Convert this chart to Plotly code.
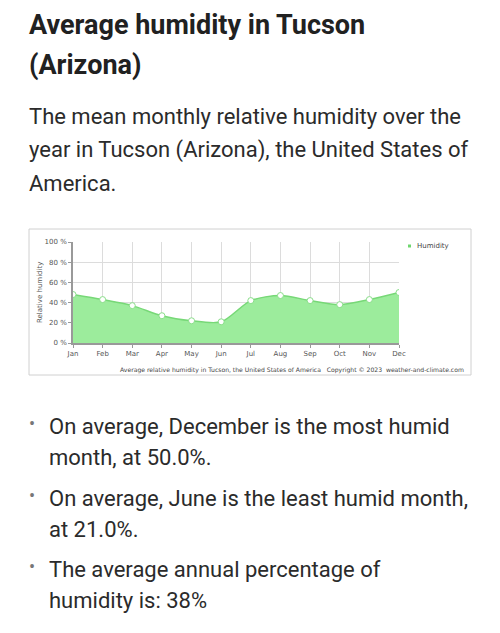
import plotly.graph_objects as go

months = ["Jan", "Feb", "Mar", "Apr", "May", "Jun", "Jul", "Aug", "Sep", "Oct", "Nov", "Dec"]
humidity = [48, 43, 37, 27, 22, 21, 42, 47, 42, 38, 43, 50]
y_ticks = [0, 20, 40, 60, 80, 100]
y_ticklabels = [f"{v} %" for v in y_ticks]

W, H = 500, 633
PL, PR, PT, PB = 73, 399, 242, 343  # plot area in pixels


def px(x):
    return (x - PL) / (PR - PL)


def py(y):
    return (PB - y) / (PB - PT)


fig = go.Figure()
fig.add_trace(go.Scatter(
    x=list(range(len(months))), y=humidity,
    mode="lines+markers",
    line=dict(color="#77d877", width=1.5, shape="spline", smoothing=0.8),
    fill="tozeroy", fillcolor="#9cec9c",
    marker=dict(color="white", size=6, line=dict(color="#8ade8a", width=1)),
    showlegend=False, hoverinfo="x+y",
))

fig.update_layout(
    width=W, height=H,
    margin=dict(l=PL, r=W - PR, t=PT, b=H - PB),
    paper_bgcolor="white", plot_bgcolor="white",
    xaxis=dict(
        range=[0, 11], tickvals=list(range(len(months))), ticktext=months,
        showgrid=True, gridcolor="#dcdcdc", gridwidth=1,
        showline=True, linecolor="#999", linewidth=1.5,
        ticks="outside", ticklen=3, tickcolor="#999",
        tickfont=dict(family="DejaVu Sans", size=7, color="#555"),
        zeroline=False, fixedrange=True,
    ),
    yaxis=dict(
        range=[0, 100], tickvals=y_ticks, ticktext=y_ticklabels,
        showgrid=True, gridcolor="#dcdcdc", gridwidth=1,
        showline=True, linecolor="#999", linewidth=1.5,
        ticks="outside", ticklen=3, tickcolor="#999",
        tickfont=dict(family="DejaVu Sans", size=7, color="#555"),
        zeroline=False, fixedrange=True,
    ),
    font=dict(family="Roboto"),
)

# chart frame
fig.add_shape(type="rect", xref="paper", yref="paper",
              x0=px(29), x1=px(471), y0=py(229), y1=py(375),
              line=dict(color="#d0d0d0", width=1), layer="below")

# legend
fig.add_shape(type="rect", xref="paper", yref="paper",
              x0=px(408), x1=px(411), y0=py(244.5), y1=py(247.5),
              line=dict(width=0), fillcolor="#6fd66f")
fig.add_annotation(x=px(415), y=py(246), xref="paper", yref="paper",
                   text="Humidity", showarrow=False, xanchor="left", yanchor="middle",
                   font=dict(family="DejaVu Sans", size=7, color="#444"))

# y axis title
fig.add_annotation(x=px(40), y=py(293), xref="paper", yref="paper",
                   text="Relative humidity", showarrow=False, textangle=-90,
                   xanchor="center", yanchor="middle",
                   font=dict(family="DejaVu Sans", size=7, color="#555"))

# footer
fig.add_annotation(x=px(466), y=py(370), xref="paper", yref="paper",
                   text="Average relative humidity in Tucson, the United States of America&nbsp;&nbsp;&nbsp;Copyright © 2023&nbsp;&nbsp;weather-and-climate.com",
                   showarrow=False, xanchor="right", yanchor="middle",
                   font=dict(family="DejaVu Sans", size=6.1, color="#444"))

# page title
for txt, yc in [("Average humidity in Tucson", 25), ("(Arizona)", 65)]:
    fig.add_annotation(x=px(27), y=py(yc), xref="paper", yref="paper",
                       text="<b>" + txt + "</b>", showarrow=False,
                       xanchor="left", yanchor="middle",
                       font=dict(family="Roboto", size=27, color="#212121"))

# paragraph
for txt, yc in [("The mean monthly relative humidity over the", 117),
                ("year in Tucson (Arizona), the United States of", 150),
                ("America.", 183)]:
    fig.add_annotation(x=px(27), y=py(yc), xref="paper", yref="paper",
                       text=txt, showarrow=False, xanchor="left", yanchor="middle",
                       font=dict(family="Roboto", size=22, color="#2b2b2b"))

# bullets
bullets = [
    (["On average, December is the most humid", "month, at 50.0%."], 426),
    (["On average, June is the least humid month,", "at 21.0%."], 498),
    (["The average annual percentage of", "humidity is: 38%"], 569),
]
for lines, y0 in bullets:
    fig.add_annotation(x=px(32), y=py(y0 - 3), xref="paper", yref="paper",
                       text="•", showarrow=False, xanchor="center", yanchor="middle",
                       font=dict(family="Roboto", size=18, color="#777"))
    for i, ln in enumerate(lines):
        fig.add_annotation(x=px(47), y=py(y0 + i * 31), xref="paper", yref="paper",
                           text=ln, showarrow=False, xanchor="left", yanchor="middle",
                           font=dict(family="Roboto", size=22, color="#2b2b2b"))

fig.write_html("out.html")
